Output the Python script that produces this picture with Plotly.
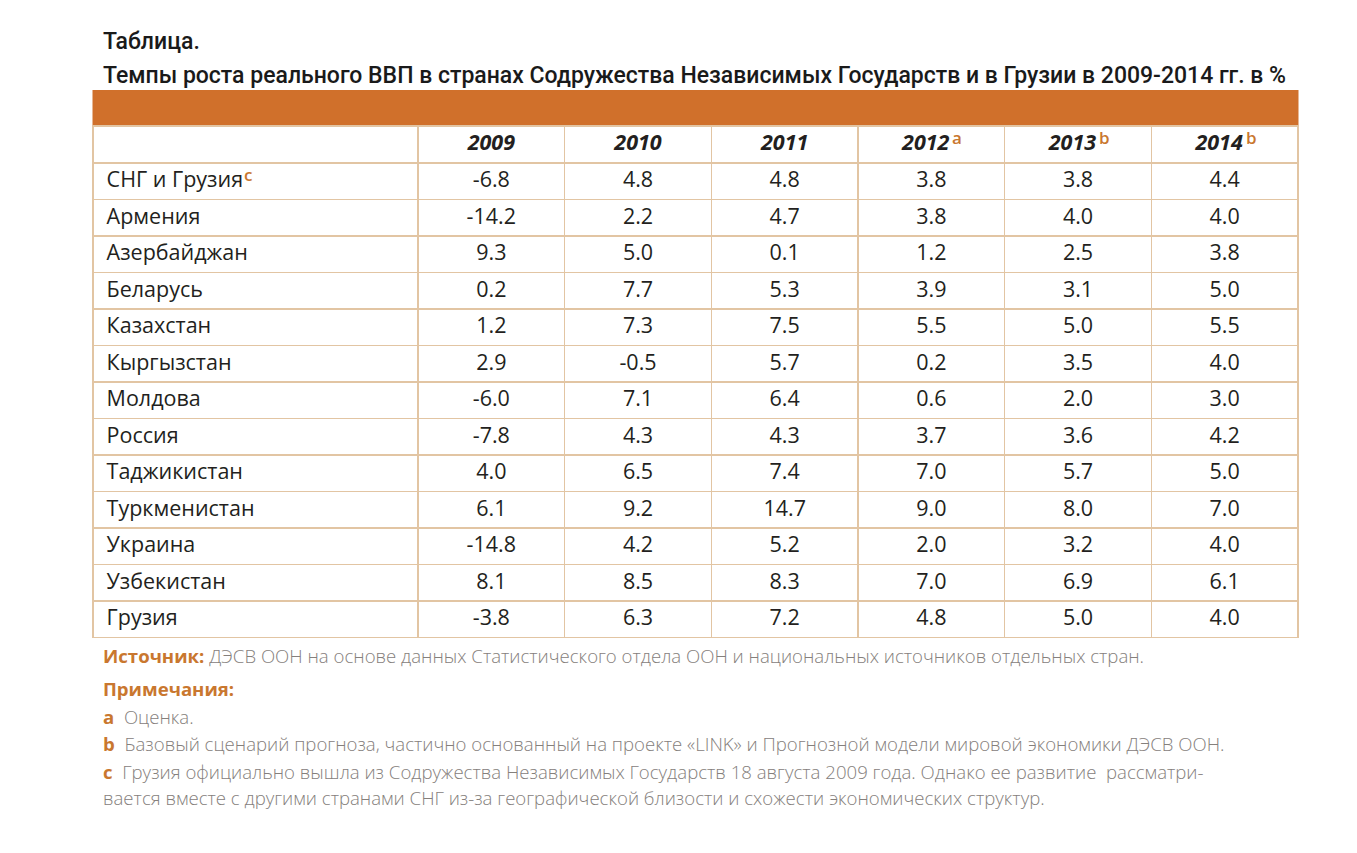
import plotly.graph_objects as go

# page body has an 8px margin; work in reference pixel coordinates and convert
OFF = 8
W, H = 1357 - 2 * OFF, 853 - 2 * OFF
def px(x):
    return (x - OFF) / W
def py(y):
    return 1 - (y - OFF) / H

countries = ["СНГ и Грузия", "Армения", "Азербайджан", "Беларусь",
             "Казахстан", "Кыргызстан", "Молдова", "Россия", "Таджикистан",
             "Туркменистан", "Украина", "Узбекистан", "Грузия"]
country_notes = ["c", "", "", "", "", "", "", "", "", "", "", "", ""]
years = ["2009", "2010", "2011", "2012", "2013", "2014"]
year_notes = ["", "", "", "a", "b", "b"]

v2009 = [-6.8, -14.2, 9.3, 0.2, 1.2, 2.9, -6.0, -7.8, 4.0, 6.1, -14.8, 8.1, -3.8]
v2010 = [4.8, 2.2, 5.0, 7.7, 7.3, -0.5, 7.1, 4.3, 6.5, 9.2, 4.2, 8.5, 6.3]
v2011 = [4.8, 4.7, 0.1, 5.3, 7.5, 5.7, 6.4, 4.3, 7.4, 14.7, 5.2, 8.3, 7.2]
v2012 = [3.8, 3.8, 1.2, 3.9, 5.5, 0.2, 0.6, 3.7, 7.0, 9.0, 2.0, 7.0, 4.8]
v2013 = [3.8, 4.0, 2.5, 3.1, 5.0, 3.5, 2.0, 3.6, 5.7, 8.0, 3.2, 6.9, 5.0]
v2014 = [4.4, 4.0, 3.8, 5.0, 5.5, 4.0, 3.0, 4.2, 5.0, 7.0, 4.0, 6.1, 4.0]
series = [v2009, v2010, v2011, v2012, v2013, v2014]

ORANGE = "#d0702b"
NOTE_ORANGE = "#c9772f"
LINE = "#e2c5a3"
TEXT = "#231f20"
GREY = "#85807c"
NB = "\u00a0"  # no-break space: keeps plotly's table from word-wrapping / growing rows
FONT = "Open Sans, Noto Sans, sans-serif"
FS = 21.5

def nb(s):
    return s.replace(" ", NB)

# table geometry (reference pixels)
X0, X1, BAND_TOP, TOP = 93, 1298, 90, 126
FIRST_W = 325
YEAR_W = (X1 - X0 - FIRST_W) / 6
HEAD_H, ROW_H = 37, 36.5

head = [""] + [y + (NB * 2 if n else "") for y, n in zip(years, year_notes)]
col0 = [NB + nb(c) for c in countries]
cols = [col0] + [[f"{v:.1f}" for v in vals] for vals in series]

fig = go.Figure(go.Table(
    domain=dict(x=[px(X0), px(X1)], y=[py(800), py(TOP)]),
    columnwidth=[FIRST_W] + [YEAR_W] * 6,
    header=dict(values=head, fill_color="white", line=dict(color=LINE, width=1.5), height=HEAD_H,
                align=["left"] + ["center"] * 6,
                font=dict(family=FONT, size=FS, color=TEXT, weight="bold", style="italic")),
    cells=dict(values=cols, fill_color="white", line=dict(color=LINE, width=1.5),
               align=["left"] + ["center"] * 6,
               font=dict(family=FONT, size=FS, color=TEXT), height=ROW_H),
))

# orange band above the table
fig.add_shape(type="rect", xref="paper", yref="paper", x0=px(X0 - 0.5), x1=px(X1 + 0.5),
              y0=py(TOP), y1=py(BAND_TOP), fillcolor=ORANGE, line=dict(width=0), layer="below")

# orange footnote superscripts next to the year headers and the first row label
sup_font = dict(family=FONT, size=17, color=NOTE_ORANGE, weight=600)
for j, n in enumerate(year_notes):
    if n:
        cx = X0 + FIRST_W + YEAR_W * (j + 0.5)
        fig.add_annotation(xref="paper", yref="paper", xanchor="left", yanchor="middle",
                           x=px(cx + 19), y=py(TOP + 11), text=n, showarrow=False, font=sup_font)
for i, n in enumerate(country_notes):
    if n:
        fig.add_annotation(xref="paper", yref="paper", xanchor="left", yanchor="middle",
                           x=px(242), y=py(TOP + HEAD_H + ROW_H * i + 12), text=n,
                           showarrow=False, font=sup_font)

title_font = dict(family="Roboto, Noto Sans, sans-serif", size=23, color="#1a1a1a", weight=500)
for yy, t in [(42, "Таблица."),
              (75, "Темпы роста реального ВВП в странах Содружества Независимых Государств и в Грузии в 2009-2014 гг. в %")]:
    fig.add_annotation(xref="paper", yref="paper", xanchor="left", yanchor="middle",
                       x=px(101), y=py(yy), text=t, showarrow=False, font=title_font)

note_font = dict(family=FONT, size=18.6, color=GREY, weight=300)
def lab(s):
    return f"<b><span style='color:{NOTE_ORANGE}'>{s}</span></b>"
notes = [
    (655, lab("Источник:") + " ДЭСВ ООН на основе данных Статистического отдела ООН и национальных источников отдельных стран."),
    (688, lab("Примечания:")),
    (716, lab("a") + "  Оценка."),
    (743, lab("b") + "  Базовый сценарий прогноза, частично основанный на проекте «LINK» и Прогнозной модели мировой экономики ДЭСВ ООН."),
    (771, lab("c") + "  Грузия официально вышла из Содружества Независимых Государств 18 августа 2009 года. Однако ее развитие  рассматри-"),
    (797, "вается вместе с другими странами СНГ из-за географической близости и схожести экономических структур."),
]
for yy, t in notes:
    fig.add_annotation(xref="paper", yref="paper", xanchor="left", yanchor="middle",
                       x=px(101), y=py(yy), text=t, showarrow=False, font=note_font)

fig.update_layout(width=W, height=H, margin=dict(l=0, r=0, t=0, b=0),
                  paper_bgcolor="white", plot_bgcolor="white")
fig.write_html("out.html")
